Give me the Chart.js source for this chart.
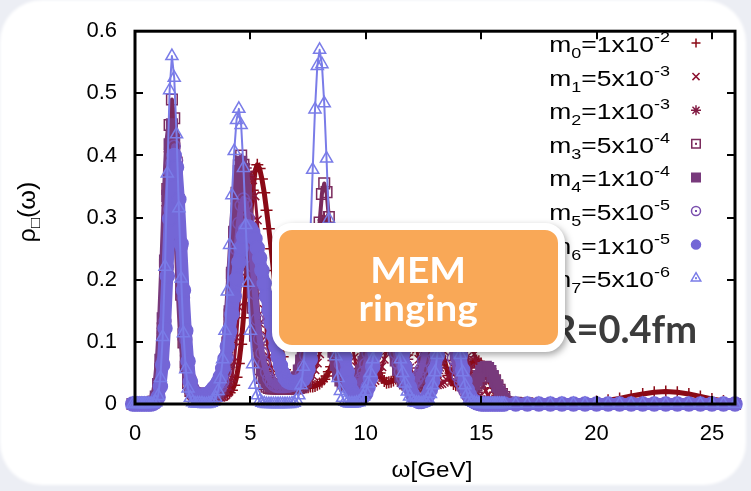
<!DOCTYPE html>
<html>
<head>
<meta charset="utf-8">
<script src="https://cdn.jsdelivr.net/npm/chart.js@4/dist/chart.umd.min.js"></script>
<style>
  html, body { margin: 0; padding: 0; }
  body { width: 751px; height: 491px; background: #eceef4; position: relative; overflow: hidden; }
  #card { position: absolute; left: 0; top: 0; width: 746px; height: 485px; background: #fff; border-radius: 42px; filter: blur(1.5px); }
  #plot { position: absolute; left: 0; top: 0; }
  #callout {
    position: absolute; left: 272px; top: 223px; width: 279px; height: 115px;
    border: 7px solid #fff; border-radius: 20px; background: #f9a857;
    box-shadow: 2px 3px 7px rgba(0, 0, 0, 0.35);
    display: flex; align-items: center; justify-content: center; text-align: center;
    color: #fff; font: bold 36px Lato, "Open Sans", sans-serif; line-height: 38px;
  }
  #callout span { display: inline-block; transform: scaleX(1.08); }
</style>
</head>
<body>
<div id="card"></div>
<canvas id="plot" width="751" height="491"></canvas>
<div id="callout"><span>MEM<br>ringing</span></div>
<script>
// omega grid [GeV]
const omega = [-0.2, -0.1,
  0, 0.1, 0.2, 0.3, 0.4, 0.5, 0.6, 0.7, 0.8, 0.9,
  1, 1.1, 1.2, 1.3, 1.4, 1.5, 1.6, 1.7, 1.8, 1.9,
  2, 2.1, 2.2, 2.3, 2.4, 2.5, 2.6, 2.7, 2.8, 2.9,
  3, 3.1, 3.2, 3.3, 3.4, 3.5, 3.6, 3.7, 3.8, 3.9,
  4, 4.1, 4.2, 4.3, 4.4, 4.5, 4.6, 4.7, 4.8, 4.9,
  5, 5.1, 5.2, 5.3, 5.4, 5.5, 5.6, 5.7, 5.8, 5.9,
  6, 6.1, 6.2, 6.3, 6.4, 6.5, 6.6, 6.7, 6.8, 6.9,
  7, 7.1, 7.2, 7.3, 7.4, 7.5, 7.6, 7.7, 7.8, 7.9,
  8, 8.1, 8.2, 8.3, 8.4, 8.5, 8.6, 8.7, 8.8, 8.9,
  9, 9.1, 9.2, 9.3, 9.4, 9.5, 9.6, 9.7, 9.8, 9.9,
  10, 10.1, 10.2, 10.3, 10.4, 10.5, 10.6, 10.7, 10.8, 10.9,
  11, 11.1, 11.2, 11.3, 11.4, 11.5, 11.6, 11.7, 11.8, 11.9,
  12, 12.1, 12.2, 12.3, 12.4, 12.5, 12.6, 12.7, 12.8, 12.9,
  13, 13.1, 13.2, 13.3, 13.4, 13.5, 13.6, 13.7, 13.8, 13.9,
  14, 14.1, 14.2, 14.3, 14.4, 14.5, 14.6, 14.7, 14.8, 14.9,
  15, 15.1, 15.2, 15.3, 15.4, 15.5, 15.6, 15.7, 15.8, 15.9,
  16,
  16.5, 17, 17.5, 18, 18.5, 19, 19.5, 20, 20.5, 21,
  21.5, 22, 22.5, 23, 23.5, 24, 24.5, 25, 25.5, 26];

// spectral functions, one per default model m0..m7
const rho0 = [0, 0,
  0, 0, 0, 0, 0, 0, 0, 0, .001, .004,
  .011, .029, .066, .129, .216, .312, .390, .420, .397, .336,
  .255, .173, .105, .057, .028, .022, .016, .014, .013, .012,
  .012, .012, .012, .013, .013, .013, .013, .013, .014, .014,
  .015, .018, .022, .030, .043, .065, .096, .139, .189, .244,
  .298, .344, .374, .385, .379, .362, .340, .312, .282, .250,
  .215, .178, .140, .105, .076, .055, .042, .035, .031, .028,
  .027, .027, .027, .027, .027, .027, .028, .028, .029, .031,
  .033, .036, .040, .045, .052, .060, .070, .082, .096, .111,
  .128, .148, .168, .185, .199, .207, .210, .207, .197, .181,
  .161, .139, .117, .096, .077, .062, .050, .042, .037, .034,
  .035, .036, .038, .041, .045, .051, .058, .068, .079, .092,
  .106, .121, .137, .151, .162, .168, .170, .168, .161, .150,
  .136, .120, .103, .086, .070, .058, .046, .038, .032, .030,
  .030, .033, .039, .046, .051, .059, .065, .069, .070, .069,
  .065, .058, .051, .043, .034, .026, .019, .014, .009, .006,
  .004,
  .002, .001, .001, .001, .001, .001, .002, .004, .006, .009,
  .013, .016, .019, .020, .019, .016, .012, .008, .005, .003];

const rho1 = [0, 0,
  0, 0, 0, 0, 0, 0, 0, .001, .004, .012,
  .030, .068, .132, .221, .320, .399, .430, .407, .344, .261,
  .177, .107, .058, .032, .019, .013, .011, .010, .010, .010,
  .010, .010, .010, .010, .010, .010, .010, .011, .012, .014,
  .018, .026, .042, .068, .107, .156, .212, .271, .322, .357,
  .370, .361, .335, .296, .249, .200, .152, .110, .076, .058,
  .045, .037, .033, .031, .030, .030, .030, .030, .030, .030,
  .030, .031, .031, .032, .033, .036, .040, .046, .055, .066,
  .081, .100, .125, .154, .182, .209, .231, .245, .250, .244,
  .227, .200, .169, .135, .103, .075, .060, .045, .037, .033,
  .032, .032, .033, .035, .038, .043, .050, .060, .072, .086,
  .102, .118, .136, .153, .167, .176, .180, .176, .166, .150,
  .131, .109, .088, .072, .057, .046, .038, .033, .031, .031,
  .031, .031, .032, .033, .035, .039, .044, .051, .059, .068,
  .080, .088, .094, .099, .100, .098, .091, .080, .067, .054,
  .041, .030, .021, .014, .009, .005, .003, .002, .001, 0,
  0,
  0, 0, 0, 0, 0, 0, 0, 0, 0, 0,
  0, 0, 0, 0, 0, 0, 0, 0, 0, 0];

const rho2 = [0, 0,
  0, 0, 0, 0, 0, 0, 0, 0, .003, .009,
  .025, .059, .122, .214, .319, .406, .440, .416, .352, .267,
  .181, .110, .059, .033, .019, .013, .011, .010, .010, .010,
  .010, .010, .010, .010, .010, .010, .011, .012, .016, .023,
  .036, .059, .095, .145, .205, .269, .326, .366, .380, .368,
  .335, .287, .231, .174, .130, .095, .070, .052, .042, .036,
  .033, .031, .030, .030, .030, .030, .030, .030, .030, .031,
  .032, .034, .038, .045, .057, .074, .100, .134, .176, .220,
  .261, .290, .300, .291, .265, .227, .182, .140, .105, .080,
  .060, .048, .040, .035, .032, .031, .031, .032, .033, .035,
  .038, .043, .050, .060, .073, .090, .110, .132, .154, .173,
  .185, .190, .185, .172, .152, .130, .108, .090, .072, .058,
  .048, .040, .035, .032, .031, .031, .031, .032, .034, .037,
  .042, .049, .059, .071, .085, .100, .115, .128, .137, .140,
  .137, .127, .112, .094, .076, .058, .042, .029, .019, .012,
  .007, .004, .002, .001, 0, 0, 0, 0, 0, 0,
  0,
  0, 0, 0, 0, 0, 0, 0, 0, 0, 0,
  0, 0, 0, 0, 0, 0, 0, 0, 0, 0];

const rho3 = [0, 0,
  0, 0, 0, 0, 0, 0, 0, 0, .002, .007,
  .022, .056, .122, .224, .346, .449, .490, .460, .380, .276,
  .176, .099, .060, .034, .021, .017, .015, .014, .014, .014,
  .014, .014, .014, .014, .015, .016, .019, .025, .036, .058,
  .092, .144, .208, .277, .340, .384, .400, .385, .343, .283,
  .216, .155, .110, .080, .056, .042, .032, .028, .026, .025,
  .025, .025, .025, .025, .025, .025, .025, .025, .025, .025,
  .025, .026, .027, .030, .036, .048, .070, .110, .163, .229,
  .292, .338, .355, .341, .301, .246, .185, .130, .098, .068,
  .048, .036, .030, .027, .027, .027, .028, .029, .031, .035,
  .041, .050, .063, .080, .100, .125, .149, .170, .185, .190,
  .185, .170, .147, .121, .095, .080, .063, .050, .041, .035,
  .031, .029, .028, .029, .030, .033, .038, .045, .056, .069,
  .085, .103, .121, .136, .146, .150, .146, .134, .116, .095,
  .076, .058, .045, .035, .030, .028, .026, .027, .030, .034,
  .040, .044, .048, .050, .048, .044, .038, .030, .023, .016,
  .011,
  .002, .001, 0, 0, 0, 0, 0, 0, 0, 0,
  0, 0, 0, 0, 0, 0, 0, 0, 0, 0];

const rho4 = [0, 0,
  0, 0, 0, 0, 0, 0, 0, .001, .004, .012,
  .032, .071, .138, .231, .335, .418, .450, .426, .360, .273,
  .185, .112, .070, .042, .026, .020, .017, .016, .016, .016,
  .016, .016, .016, .016, .017, .019, .022, .029, .042, .064,
  .099, .149, .211, .276, .334, .375, .390, .378, .344, .294,
  .237, .180, .132, .100, .072, .054, .042, .035, .031, .029,
  .028, .028, .028, .028, .028, .028, .029, .030, .032, .036,
  .043, .054, .070, .095, .128, .164, .204, .238, .262, .270,
  .262, .241, .209, .171, .135, .110, .084, .063, .048, .038,
  .033, .030, .029, .030, .031, .033, .037, .044, .054, .068,
  .087, .110, .137, .165, .188, .204, .210, .204, .188, .163,
  .133, .108, .088, .070, .055, .044, .037, .033, .031, .031,
  .032, .034, .037, .042, .050, .061, .075, .093, .113, .135,
  .156, .174, .185, .190, .185, .172, .152, .128, .103, .078,
  .062, .048, .038, .031, .028, .027, .029, .032, .038, .045,
  .053, .058, .060, .058, .053, .045, .036, .028, .020, .013,
  .008,
  .001, 0, 0, 0, 0, 0, 0, 0, 0, 0,
  0, 0, 0, 0, 0, 0, 0, 0, 0, 0];

const rho5 = [0, 0,
  0, 0, 0, 0, 0, 0, 0, 0, .001, .004,
  .012, .031, .069, .133, .220, .314, .388, .415, .392, .332,
  .252, .171, .104, .057, .040, .026, .020, .017, .016, .016,
  .016, .016, .016, .017, .017, .019, .022, .027, .036, .052,
  .075, .109, .151, .200, .249, .291, .320, .330, .322, .299,
  .264, .222, .178, .136, .105, .082, .065, .051, .041, .035,
  .031, .029, .028, .028, .028, .028, .029, .029, .030, .031,
  .034, .039, .047, .060, .078, .102, .132, .165, .202, .232,
  .253, .260, .253, .232, .202, .165, .130, .104, .082, .064,
  .049, .039, .032, .029, .028, .029, .031, .035, .041, .051,
  .064, .082, .104, .130, .157, .179, .194, .200, .194, .179,
  .155, .127, .100, .082, .066, .052, .042, .035, .031, .030,
  .031, .034, .039, .046, .056, .070, .087, .106, .127, .147,
  .163, .176, .180, .176, .163, .144, .121, .097, .074, .058,
  .045, .035, .027, .020, .014, .009, .005, .003, .001, 0,
  0, 0, 0, 0, 0, 0, 0, 0, 0, 0,
  0,
  0, 0, 0, 0, 0, 0, 0, 0, 0, 0,
  0, 0, 0, 0, 0, 0, 0, 0, 0, 0];

const rho6 = [0, 0,
  0, 0, 0, 0, 0, 0, 0, 0, .001, .004,
  .011, .028, .063, .122, .206, .298, .371, .400, .381, .329,
  .258, .183, .118, .069, .036, .020, .014, .012, .012, .013,
  .014, .015, .017, .020, .025, .029, .035, .044, .057, .073,
  .093, .117, .144, .173, .201, .228, .251, .270, .281, .285,
  .283, .276, .266, .251, .235, .215, .194, .173, .151, .130,
  .111, .093, .076, .062, .050, .042, .037, .035, .035, .034,
  .034, .035, .038, .040, .046, .056, .072, .094, .122, .152,
  .182, .209, .231, .245, .250, .244, .226, .200, .169, .135,
  .103, .075, .052, .034, .021, .014, .012, .010, .011, .013,
  .017, .027, .041, .060, .082, .108, .135, .160, .181, .195,
  .200, .195, .181, .160, .135, .108, .082, .060, .041, .027,
  .017, .010, .006, .004, .004, .005, .007, .014, .023, .037,
  .055, .078, .103, .128, .150, .165, .170, .165, .150, .128,
  .103, .078, .055, .037, .023, .014, .007, .004, .002, .001,
  0, 0, 0, 0, 0, 0, 0, 0, 0, 0,
  0,
  0, 0, 0, 0, 0, 0, 0, 0, 0, 0,
  0, 0, 0, 0, 0, 0, 0, 0, 0, 0];

const rho7 = [0, 0,
  0, 0, 0, 0, 0, 0, 0, 0, .001, .003,
  .013, .042, .108, .221, .371, .505, .560, .525, .434, .315,
  .202, .114, .056, .025, .010, .003, .001, .001, .001, .001,
  0, 0, .001, .002, .004, .010, .021, .040, .072, .118,
  .181, .256, .336, .407, .457, .475, .449, .380, .288, .195,
  .118, .064, .031, .014, .005, .002, .001, 0, 0, 0,
  0, 0, 0, 0, 0, 0, 0, 0, .001, .002,
  .006, .014, .030, .060, .109, .181, .273, .377, .474, .544,
  .570, .547, .484, .395, .297, .205, .131, .077, .042, .021,
  .010, .004, .002, .001, .001, .001, .002, .003, .006, .012,
  .020, .033, .050, .072, .098, .127, .155, .179, .194, .200,
  .194, .179, .155, .127, .098, .072, .050, .033, .020, .012,
  .006, .003, .002, .002, .001, .002, .004, .008, .016, .030,
  .051, .079, .114, .152, .187, .211, .220, .211, .187, .152,
  .114, .079, .051, .030, .016, .008, .004, .002, .001, 0,
  0, 0, 0, 0, 0, 0, 0, 0, 0, 0,
  0,
  0, 0, 0, 0, 0, 0, 0, 0, 0, 0,
  0, 0, 0, 0, 0, 0, 0, 0, 0, 0];

const massCoef = ['1', '5', '1', '5', '1', '5', '1', '5'];
const massExp = ['-2', '-3', '-3', '-4', '-4', '-5', '-5', '-6'];
const xTicks = [0, 5, 10, 15, 20, 25];
const yTicks = [0, 0.1, 0.2, 0.3, 0.4, 0.5, 0.6];

const rhoSeries = [rho0, rho1, rho2, rho3, rho4, rho5, rho6, rho7];
const colors = ['#8b0a16', '#8c1230', '#821c44', '#7a2a5c', '#783a7c', '#7a4fae', '#7466d6', '#7a7ce8'];
const pointStyles = ['cross', 'crossRot', 'star', 'rect', 'rect', 'circle', 'circle', 'triangle'];
const filled = [false, false, false, false, true, false, true, false];
const dotted = [false, false, false, true, false, true, false, true];
const pointRadii = [6, 6, 6, 7.5, 7.5, 6, 7, 7];
const lineWidths = [5, 3, 3, 4, 11, 6, 12, 2];
const legendRadii = [4.5, 5, 5, 6, 6, 4.5, 4.5, 5.5];

const FONT = '"Liberation Sans", Arial, sans-serif';
Chart.defaults.font.family = FONT;

// text made of pieces with their own size and vertical shift (sub/superscripts)
function richText(ctx, parts, x, base, align, sx) {
  let w = 0;
  parts.forEach(p => {
    ctx.font = p.size + 'px ' + FONT;
    p.w = ctx.measureText(p.t).width;
    w += p.w;
  });
  let cx = align === 'right' ? x - w * sx : align === 'center' ? x - w * sx / 2 : x;
  ctx.textAlign = 'left';
  ctx.textBaseline = 'alphabetic';
  parts.forEach(p => {
    ctx.font = p.size + 'px ' + FONT;
    ctx.save();
    ctx.translate(cx, base + p.dy);
    ctx.scale(sx, 1);
    ctx.fillText(p.t, 0, 0);
    ctx.restore();
    cx += p.w * sx;
  });
}

function legendMarker(ctx, i, x, y) {
  ctx.save();
  ctx.strokeStyle = colors[i];
  ctx.fillStyle = filled[i] ? colors[i] : 'rgba(0,0,0,0)';
  ctx.lineWidth = 1.5;
  Chart.helpers.drawPoint(ctx, { pointStyle: pointStyles[i], radius: legendRadii[i], borderWidth: 1.5, rotation: 0 }, x, y);
  if (dotted[i]) {
    ctx.fillStyle = colors[i];
    ctx.fillRect(x - 1, y - 1, 2, 2);
  }
  ctx.restore();
}

const decorations = {
  id: 'decorations',
  afterDatasetsDraw(chart) {
    const { ctx, chartArea: a, scales: { x, y } } = chart;
    ctx.save();

    // border and inward ticks on all four sides
    ctx.strokeStyle = '#000';
    ctx.lineWidth = 2;
    ctx.beginPath();
    yTicks.forEach(v => {
      const py = Math.round(y.getPixelForValue(v));
      ctx.moveTo(a.left, py); ctx.lineTo(a.left + 8, py);
      ctx.moveTo(a.right, py); ctx.lineTo(a.right - 8, py);
    });
    xTicks.forEach(v => {
      const px = Math.round(x.getPixelForValue(v));
      ctx.moveTo(px, a.bottom); ctx.lineTo(px, a.bottom - 8);
      ctx.moveTo(px, a.top); ctx.lineTo(px, a.top + 8);
    });
    ctx.stroke();
    ctx.lineWidth = 3;
    ctx.strokeRect(a.left, a.top, a.right - a.left, a.bottom - a.top);

    // legend
    ctx.fillStyle = '#000';
    for (let i = 0; i < rhoSeries.length; i++) {
      const yMid = 43 + i * 33.6;
      richText(ctx, [
        { t: 'm', size: 22, dy: 0 },
        { t: String(i), size: 15, dy: 6 },
        { t: '=' + massCoef[i] + 'x10', size: 22, dy: 0 },
        { t: massExp[i], size: 15, dy: -10 }
      ], 670, yMid + 9, 'right', 1.2);
      legendMarker(ctx, i, 696, yMid);
    }

    // axis titles
    ctx.fillStyle = '#000';
    richText(ctx, [{ t: 'ω[GeV]', size: 22, dy: 0 }], 432, 477, 'center', 1.1);
    ctx.save();
    ctx.translate(35, 212);
    ctx.rotate(-Math.PI / 2);
    richText(ctx, [
      { t: 'ρ', size: 23, dy: 0 },
      { t: '□', size: 15, dy: 5 },
      { t: '(ω)', size: 23, dy: 0 }
    ], 0, 0, 'center', 1.1);
    ctx.restore();

    // radius label
    ctx.fillStyle = '#3c3c3c';
    ctx.font = 'bold 38px Lato, "Open Sans", sans-serif';
    ctx.textAlign = 'right';
    ctx.textBaseline = 'alphabetic';
    ctx.fillText('R=0.4fm', 697, 343);

    ctx.restore();
  }
};

const datasets = rhoSeries.map((vals, i) => ({
  label: 'm' + i,
  data: omega.map((w, k) => ({ x: w, y: vals[k] })),
  showLine: true,
  borderColor: colors[i],
  borderWidth: lineWidths[i],
  borderJoinStyle: 'round',
  borderCapStyle: 'round',
  backgroundColor: colors[i],
  pointStyle: pointStyles[i],
  pointRadius: pointRadii[i],
  pointBorderWidth: 1.5,
  pointBorderColor: colors[i],
  pointBackgroundColor: filled[i] ? colors[i] : 'rgba(0,0,0,0)',
  clip: false,
  order: rhoSeries.length - 1 - i
}));

new Chart(document.getElementById('plot'), {
  type: 'scatter',
  data: { datasets },
  options: {
    responsive: false,
    animation: false,
    devicePixelRatio: 1,
    layout: { padding: { top: 20, right: 16, left: 0, bottom: 0 } },
    plugins: { legend: { display: false }, tooltip: { enabled: false } },
    scales: {
      x: {
        type: 'linear', min: 0, max: 26,
        afterFit(s) { s.height = 87; },
        grid: { display: false, drawTicks: false },
        border: { display: false },
        ticks: { stepSize: 5, includeBounds: false, maxRotation: 0, autoSkip: false, color: '#000', font: { size: 22 }, padding: 17 }
      },
      y: {
        min: 0, max: 0.6,
        afterFit(s) { s.width = 135; },
        grid: { display: false, drawTicks: false },
        border: { display: false },
        ticks: {
          stepSize: 0.1, color: '#000', font: { size: 22 }, padding: 18,
          callback: v => (v === 0 ? '0' : v.toFixed(1))
        }
      }
    }
  },
  plugins: [decorations]
});
</script>
</body>
</html>
